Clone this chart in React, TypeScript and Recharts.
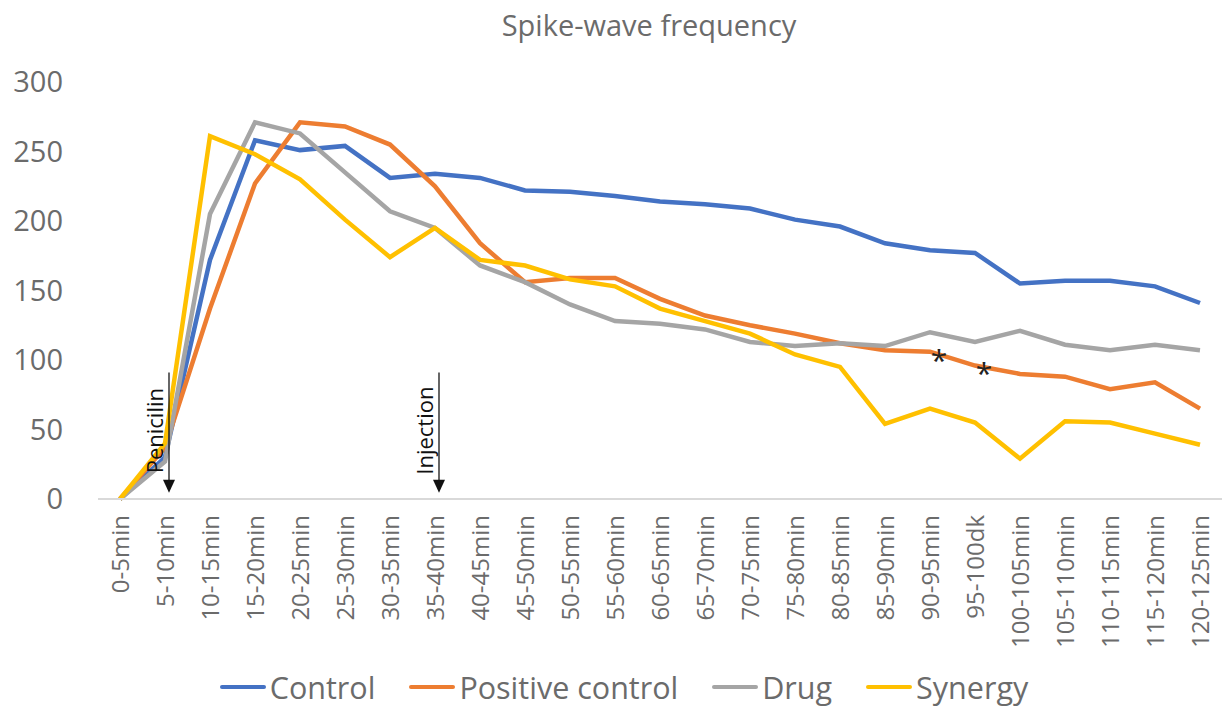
import React from 'react';
import { LineChart, Line, XAxis, YAxis, Legend, ReferenceLine, ReferenceDot } from 'recharts';

const categories = [
  '0-5min', '5-10min', '10-15min', '15-20min', '20-25min', '25-30min', '30-35min', '35-40min',
  '40-45min', '45-50min', '50-55min', '55-60min', '60-65min', '65-70min', '70-75min', '75-80min',
  '80-85min', '85-90min', '90-95min', '95-100dk', '100-105min', '105-110min', '110-115min',
  '115-120min', '120-125min',
];

const control = [0, 30, 172, 258, 251, 254, 231, 234, 231, 222, 221, 218, 214, 212, 209, 201, 196, 184, 179, 177, 155, 157, 157, 153, 141];
const positiveControl = [0, 37, 137, 227, 271, 268, 255, 225, 184, 156, 159, 159, 144, 132, 125, 119, 112, 107, 106, 96, 90, 88, 79, 84, 65];
const drug = [0, 27, 205, 271, 263, 235, 207, 195, 168, 156, 140, 128, 126, 122, 113, 110, 112, 110, 120, 113, 121, 111, 107, 111, 107];
const synergy = [0, 40, 261, 248, 230, 201, 174, 195, 172, 168, 158, 153, 137, 128, 119, 104, 95, 54, 65, 55, 29, 56, 55, 47, 39];

const yTicks = [0, 50, 100, 150, 200, 250, 300];

// arrows with their labels, and the asterisks next to the positive control line
const arrows = [
  { at: '5-10min', text: 'Penicilin' },
  { at: '35-40min', text: 'Injection' },
];
const stars = [
  { at: '90-95min', value: 104 },
  { at: '95-100dk', value: 95 },
];

const series = [
  { key: 'control', name: 'Control', color: '#4472C4' },
  { key: 'positiveControl', name: 'Positive control', color: '#ED7D31' },
  { key: 'drug', name: 'Drug', color: '#A5A5A5' },
  { key: 'synergy', name: 'Synergy', color: '#FFC000' },
];

const data = categories.map((name, i) => ({
  name,
  control: control[i],
  positiveControl: positiveControl[i],
  drug: drug[i],
  synergy: synergy[i],
}));

const FONT = '"Open Sans", "Noto Sans", sans-serif';
const GREY = '#6b6b6b';

const ArrowShape = (props: any) => {
  const { x1, y1, y2, text } = props;
  const x = x1 + 4;
  const mid = (y1 + y2) / 2 - 2;
  return (
    <g>
      <line x1={x} y1={y1} x2={x} y2={y2 - 11} stroke="#000" strokeWidth={1.2} />
      <path d={`M${x - 6},${y2 - 13} L${x + 6},${y2 - 13} L${x},${y2} Z`} fill="#111" />
      <text
        x={x - 6}
        y={mid}
        transform={`rotate(-90 ${x - 6} ${mid})`}
        textAnchor="middle"
        fontSize={22}
        fontFamily={FONT}
        fill="#111"
      >
        {text}
      </text>
    </g>
  );
};

const StarShape = (props: any) => (
  <text x={props.cx + 9} y={props.cy + 17} textAnchor="middle" fontSize={30} fontFamily={FONT} fill="#222">
    *
  </text>
);

const XTick = (props: any) => {
  const { x, y, payload } = props;
  return (
    <text
      x={x}
      y={y}
      transform={`rotate(-90 ${x} ${y})`}
      textAnchor="end"
      dy={9}
      fontSize={24}
      fontFamily={FONT}
      fill={GREY}
    >
      {payload.value}
    </text>
  );
};

const LegendContent = () => (
  <div
    style={{
      height: 40,
      display: 'flex',
      justifyContent: 'center',
      alignItems: 'center',
      paddingLeft: 26,
      fontFamily: FONT,
      fontSize: 30.5,
      color: GREY,
    }}
  >
    {series.map((s) => (
      <div key={s.key} style={{ display: 'flex', alignItems: 'center', margin: '0 17px' }}>
        <span style={{ width: 46, height: 4, borderRadius: 2, background: s.color, marginRight: 4 }} />
        <span>{s.name}</span>
      </div>
    ))}
  </div>
);

const App: React.FC = () => {
  return (
    <div style={{ position: 'absolute', left: 0, top: 0, width: 1224, height: 707, background: '#fff' }}>
      <LineChart width={1224} height={707} data={data} margin={{ top: 82, right: 2, bottom: 0, left: 0 }}>
        <text x={649} y={36} textAnchor="middle" fontSize={29} fontFamily={FONT} fill={GREY}>
          Spike-wave frequency
        </text>
        <XAxis
          dataKey="name"
          interval={0}
          tick={<XTick />}
          tickLine={false}
          axisLine={{ stroke: '#d9d9d9', strokeWidth: 2 }}
          height={168}
          tickMargin={10}
          padding={{ left: 22, right: 22 }}
        />
        <YAxis
          domain={[0, 300]}
          ticks={yTicks}
          axisLine={false}
          tickLine={false}
          width={98}
          tickMargin={29}
          tick={{ fontSize: 29, fill: GREY, fontFamily: FONT }}
        />
        <Legend verticalAlign="bottom" height={40} content={<LegendContent />} />
        {series.map((s) => (
          <Line
            key={s.key}
            dataKey={s.key}
            name={s.name}
            stroke={s.color}
            strokeWidth={4.5}
            dot={false}
            isAnimationActive={false}
          />
        ))}
        {arrows.map((a) => (
          <ReferenceLine
            key={a.at}
            segment={[{ x: a.at, y: 91 }, { x: a.at, y: 4.5 }]}
            shape={(p: any) => <ArrowShape {...p} text={a.text} />}
          />
        ))}
        {stars.map((s) => (
          <ReferenceDot key={s.at} x={s.at} y={s.value} r={0} shape={StarShape} />
        ))}
      </LineChart>
    </div>
  );
};

export default App;
